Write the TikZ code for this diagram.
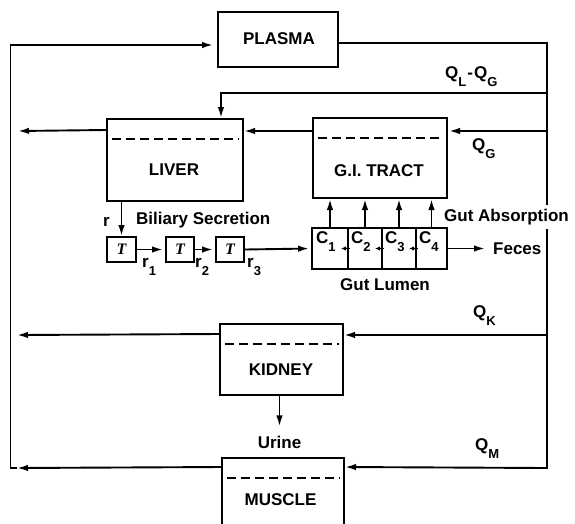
\documentclass[tikz,border=0pt]{standalone}
\usepackage{fontspec}
\setmainfont{Liberation Sans}
\newfontfamily\tfont{Liberation Serif}
\usetikzlibrary{arrows.meta,calc}
\newcommand\sbx[1]{\raisebox{-8pt}{\fontsize{13}{13}\selectfont #1}}
\newcommand\taug{{\tfont\bfseries\itshape\fontsize{16}{16}\selectfont T}}
\begin{document}
\begin{tikzpicture}[x=1pt,y=-1pt,
  lbl/.style={font=\fontsize{17}{19}\selectfont\bfseries, inner sep=0pt},
  boxnode/.style={draw, line width=2pt, inner sep=0pt},
  tbox/.style={draw, line width=1.9pt, inner sep=0pt, minimum width=28pt, minimum height=25pt},
  cell/.style={draw, line width=1.9pt, inner sep=0pt, minimum height=41pt},
  ln/.style={line width=1.9pt},
  arr/.style={ln, -{Latex[length=11pt,width=6.5pt]}},
  sarr/.style={line width=1.4pt, -{Latex[length=5pt,width=4.5pt]}},
  dashln/.style={line width=1.8pt, dash pattern=on 9pt off 5pt}]
\useasboundingbox (0,0) rectangle (575,523);
% boxes
\node[boxnode, minimum width=120pt, minimum height=55pt] (plasma) at (278,39.5) {};
\node[lbl] (plasmaT) at (279,38.5) {PLASMA};
\node[boxnode, minimum width=136pt, minimum height=82pt] (liver) at (175,160) {};
\node[lbl] (liverT) at (174,170) {LIVER};
\node[boxnode, minimum width=134pt, minimum height=80pt] (gi) at (380,158) {};
\node[lbl] (giT) at (379,171) {G.I. TRACT};
\node[boxnode, minimum width=123pt, minimum height=71pt] (kidney) at (281.5,359.5) {};
\node[lbl] (kidneyT) at (281,370) {KIDNEY};
\node[boxnode, minimum width=122pt, minimum height=72pt] (muscle) at (283,494) {};
\node[lbl] (muscleT) at (280.5,500) {MUSCLE};
% dashed lines
\foreach \b in {liver,gi,kidney,muscle}{
  \draw[dashln] ([xshift=6pt,yshift=-21pt]\b.north west) -- ([xshift=-5pt,yshift=-21pt]\b.north east);
}
% tau boxes
\node[tbox, minimum width=29pt] (t1) at (121.5,249.5) {\taug};
\node[tbox] (t2) at (180,249.5) {\taug};
\node[tbox] (t3) at (230,249.5) {\taug};
% gut lumen cells
\node[cell, minimum width=36pt] (c1) at (330,248.5) {};
\node[cell, minimum width=34pt] (c2) at (365,248.5) {};
\node[cell, minimum width=34pt] (c3) at (399,248.5) {};
\node[cell, minimum width=31pt] (c4) at (431.5,248.5) {};
\node[lbl, anchor=base west] (c1T) at (316,243) {C\sbx{1}};
\node[lbl, anchor=base west] (c2T) at (351,243) {C\sbx{2}};
\node[lbl, anchor=base west] (c3T) at (385,243) {C\sbx{3}};
\node[lbl, anchor=base west] (c4T) at (419,243) {C\sbx{4}};
% labels
\node[lbl, anchor=base west] (qlg) at (445,78) {Q\sbx{L}\kern1pt-\kern1ptQ\sbx{G}};
\node[lbl, anchor=base west] (qg) at (472,150) {Q\sbx{G}};
\node[lbl, anchor=base west] (qk) at (473,317) {Q\sbx{K}};
\node[lbl, anchor=base west] (qm) at (475,450) {Q\sbx{M}};
\node[lbl, anchor=base west] (rT) at (103,226) {r};
\node[lbl, anchor=base west] (bil) at (136,224) {Biliary Secretion};
\node[lbl, anchor=base west] (r1T) at (142,267) {r\sbx{1}};
\node[lbl, anchor=base west] (r2T) at (195,267) {r\sbx{2}};
\node[lbl, anchor=base west] (r3T) at (247,267) {r\sbx{3}};
\node[lbl, anchor=base west] (gabs) at (444,221) {Gut Absorption};
\node[lbl, anchor=base west] (feces) at (493,254) {Feces};
\node[lbl, anchor=base] (glum) at (385,290) {Gut Lumen};
\node[lbl, anchor=base] (urine) at (279.5,448) {Urine};
% coordinates of the loop
\coordinate (LB) at (10.5,468);
\coordinate (LT) at (10.5,45);
\coordinate (RT) at (547,43);
\coordinate (RB) at (547,468);
\coordinate (gA) at (547,205);
\coordinate (gB) at (547,229);
\coordinate (rQL) at (547,93);
\coordinate (rQG) at (547,131);
\coordinate (rQK) at (547,335);
\coordinate (aL) at (18,131);
\coordinate (aK) at (17,335);
\coordinate (aM) at (17,468);
% left side returns
\draw[arr] ([yshift=-12pt]liver.north west) -- (aL);
\draw[arr] ([yshift=-11pt]kidney.north west) -- (aK);
\draw[arr] ([yshift=-10pt]muscle.north west) -- (aM);
\draw[arr, shorten >=4pt] (aM) -- (LB) -- (LT) -- ([yshift=-5.5pt]plasma.west);
% right side supply
\draw[ln] ([yshift=-3.5pt]plasma.east) -- (RT) -- (gA);
\draw[arr] (gB) -- (RB) -- ([yshift=-10pt]muscle.north east);
\draw[arr] (rQL) -| ([xshift=46pt]liver.north);
\draw[arr, shorten >=1pt] (rQG) -- (gi.east |- rQG);
\draw[arr] (rQK) -- (kidney.east |- rQK);
\draw[arr] (gi.west |- rQG) -- (liver.east |- rQG);
% biliary path
\draw[arr] (liver.south -| t1) -- (t1.north);
\draw[arr, shorten >=2pt] (t1.east) -- (t2.west);
\draw[arr, shorten >=2pt] (t2.east) -- (t3.west);
\draw[arr, shorten >=2pt] (t3.east) -- (c1.west);
% absorption
\foreach \c in {c1,c2,c3,c4}{
  \draw[arr] (\c.north) -- (gi.south -| \c);
}
% inter-cell flow
\foreach \c in {c2,c3,c4}{
  \draw[sarr] ([xshift=3pt]\c.west) -- ([xshift=-6pt]\c.west);
}
\draw[arr, shorten >=8pt] (c4.east) -- (feces.west |- c4.east);
% urine
\draw[arr, shorten >=9pt] (kidney.south -| urine) -- (urine.north);
\end{tikzpicture}
\end{document}
